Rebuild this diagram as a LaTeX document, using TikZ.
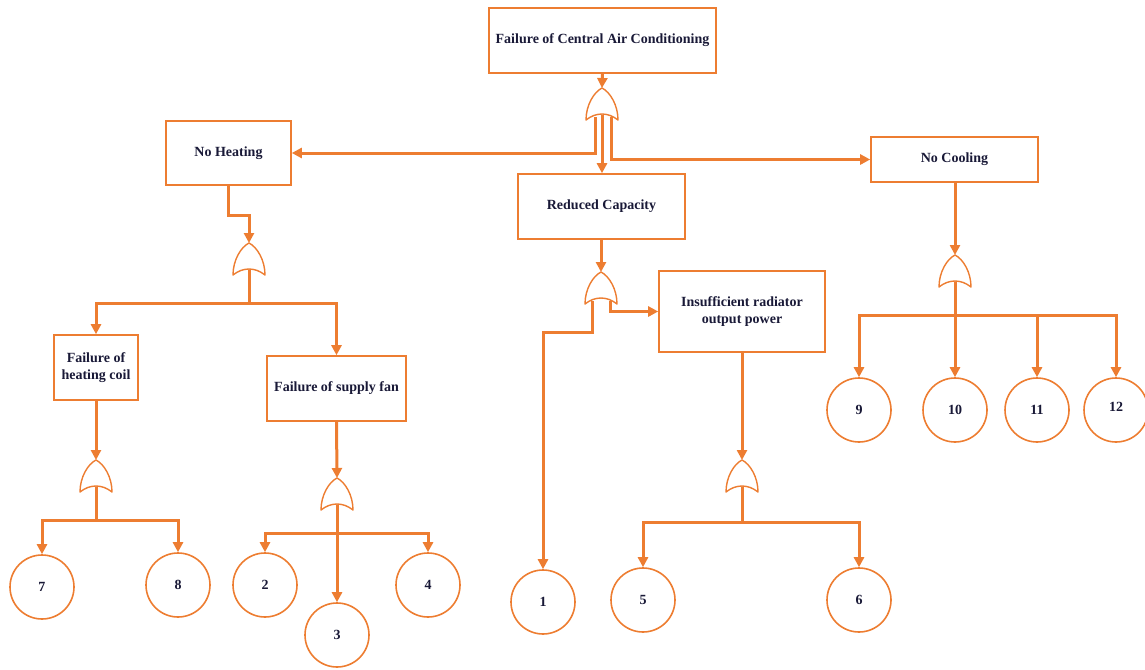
\documentclass[tikz,border=0pt]{standalone}
\usepackage{fontspec}
\setmainfont{Liberation Serif}
\usetikzlibrary{arrows.meta,calc,backgrounds}
\definecolor{orng}{RGB}{237,125,49}
\definecolor{txt}{RGB}{25,25,55}
\tikzset{
 box/.style={draw=orng, line width=0.8pt, align=center, font=\fontsize{7}{8.5}\selectfont\bfseries, text=txt, inner sep=2pt},
 circ/.style={circle, draw=orng, line width=0.8pt, minimum size=32pt, inner sep=0pt, font=\fontsize{7}{8.5}\selectfont\bfseries, text=txt},
 wire/.style={draw=orng, line width=1.5pt},
 conn/.style={wire, -{Triangle[length=5pt,width=5pt]}},
 gate/.style={draw=orng, line width=0.7pt, fill=white, line join=round},
 orgate/.pic={
   \path[gate] (-16,32) .. controls (-16,17) and (-8,4) .. (0,0)
     .. controls (8,4) and (16,17) .. (16,32)
     .. controls (6,24) and (-6,24) .. (-16,32) -- cycle;
   \coordinate (-top) at (0,0);
   \coordinate (-bot) at (0,27);
 }
}
\begin{document}
\begin{tikzpicture}[x=0.5pt,y=-0.5pt]
\useasboundingbox (0,0) rectangle (1145,669);
% boxes
\node[box, minimum width=113.5pt, minimum height=32.5pt] (top) at (602.5,40.5) {Failure of Central Air Conditioning};
\node[box, minimum width=62.5pt, minimum height=32pt] (nh) at (228.5,153) {No Heating};
\node[box, minimum width=83.5pt, minimum height=32.5pt] (rc) at (601.5,206.5) {Reduced Capacity};
\node[box, minimum width=83.5pt, minimum height=22.5pt] (nc) at (954.5,159.5) {No Cooling};
\node[box, minimum width=42pt, minimum height=32.5pt] (hc) at (96,367.5) {Failure of\\heating coil};
\node[box, minimum width=69.5pt, minimum height=32.5pt] (sf) at (336.5,388.5) {Failure of supply fan};
\node[box, minimum width=83pt, minimum height=40.5pt] (ir) at (742,311.5) {Insufficient radiator\\output power};
% basic events
\node[circ] (c7) at (42,587) {7};
\node[circ] (c8) at (178,585) {8};
\node[circ] (c2) at (265,585) {2};
\node[circ] (c4) at (428,585) {4};
\node[circ] (c3) at (337,635) {3};
\node[circ] (c1) at (543,602) {1};
\node[circ] (c5) at (643,600) {5};
\node[circ] (c6) at (859,600) {6};
\node[circ] (c9) at (859,410) {9};
\node[circ] (c10) at (955,410) {10};
\node[circ] (c11) at (1037,410) {11};
\node[circ] (c12) at (1116,410) {\raisebox{3pt}{12}};
% gates
\pic (g0) at (602,88) {orgate};
\pic (g1) at (249,243) {orgate};
\pic (g2) at (96,460) {orgate};
\pic (g3) at (337,478) {orgate};
\pic (g4) at (601,272) {orgate};
\pic (g5) at (742,460) {orgate};
\pic (g6) at (955,255) {orgate};
% junction coordinates
\coordinate (j1) at (249,303);
\coordinate (j2) at (96,520);
\coordinate (j3) at (337,533);
\coordinate (j5) at (742,522);
\coordinate (j6) at (955,315);
\coordinate (g0l) at ($(g0-bot)+(-7,2)$);
\coordinate (g0r) at ($(g0-bot)+(9,2)$);
\coordinate (g4l) at ($(g4-bot)+(-9,2)$);
\coordinate (g4r) at ($(g4-bot)+(9,2)$);
\begin{pgfonlayer}{background}
% top gate
\draw[conn] (top.south) -- (g0-top);
\draw[conn] (g0l) |- (nh.east);
\draw[conn] (g0-bot) -- (g0-bot |- rc.north);
\draw[conn] (g0r) |- (nc.west);
% no heating branch
\draw[conn] (nh.south) -- ++(0,30) -| (g1-top);
\draw[wire] (g1-bot) -- (j1);
\draw[conn] (j1) -| (hc.north);
\draw[conn] (j1) -| (sf.north);
\draw[conn] (hc.south) -- (g2-top);
\draw[wire] (g2-bot) -- (j2);
\draw[conn] (j2) -| (c7.north);
\draw[conn] (j2) -| (c8.north);
\draw[conn] (sf.south) -- (g3-top);
\draw[conn] (g3-bot) -- (c3.north);
\draw[conn] (j3) -| (c2.north);
\draw[conn] (j3) -| (c4.north);
% reduced capacity branch
\draw[conn] (rc.south -| g4-top) -- (g4-top);
\draw[conn] (g4l) -- ++(0,31) -| (c1.north);
\draw[conn] (g4r) |- (ir.west);
\draw[conn] (ir.south) -- (g5-top);
\draw[wire] (g5-bot) -- (j5);
\draw[conn] (j5) -| (c5.north);
\draw[conn] (j5) -| (c6.north);
% no cooling branch
\draw[conn] (nc.south -| g6-top) -- (g6-top);
\draw[conn] (g6-bot) -- (c10.north);
\draw[conn] (j6) -| (c9.north);
\draw[conn] (j6) -| (c11.north);
\draw[conn] (j6) -| (c12.north);
\end{pgfonlayer}
\end{tikzpicture}
\end{document}
